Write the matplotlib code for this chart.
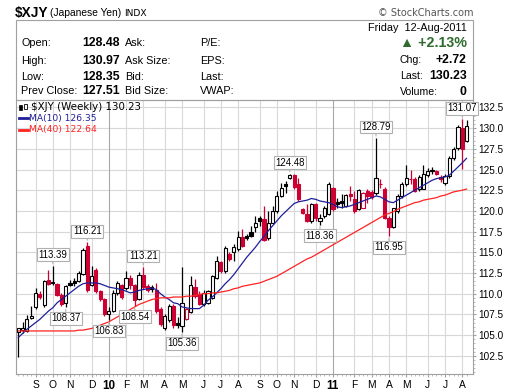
import numpy as np
import pandas as pd
import matplotlib
matplotlib.use('Agg')
import matplotlib.pyplot as plt
from matplotlib.patches import Rectangle

# weekly $XJY candles, Aug 14 2009 .. Aug 12 2011
opens = [105.4, 105.6, 105.5, 107.1, 108.4, 110.0, 108.6, 111.7, 111.4, 111.2,
         109.9, 108.9, 111.3, 111.5, 111.5, 112.4, 115.8, 111.1, 112.9, 110.3,
         109.3, 107.6, 107.9, 110.1, 111.0, 110.7, 111.9, 111.0, 109.4, 112.2,
         110.9, 110.8, 110.4, 108.1, 105.8, 106.8, 108.5, 106.5, 106.1, 107.0,
         107.8, 110.8, 110.0, 108.7, 108.9, 109.5, 111.9, 113.8, 112.7, 114.8,
         115.0, 115.4, 116.8, 117.0, 117.4, 118.1, 119.2, 119.0, 116.7, 118.6,
         120.0, 121.8, 123.2, 124.0, 124.4, 123.3, 120.2, 119.6, 118.8, 120.8,
         118.8, 119.4, 119.6, 122.8, 121.1, 121.2, 120.6, 122.0, 121.5, 120.2,
         120.4, 122.4, 122.3, 122.2, 123.3, 122.7, 119.2, 118.1, 120.0, 121.8,
         123.2, 123.9, 123.9, 122.6, 122.7, 124.3, 125.0, 124.8, 124.1, 123.4,
         124.2, 126.4, 127.6, 130.0, 128.48]
highs = [105.9, 106.6, 107.4, 108.5, 110.7, 110.3, 111.7, 112.9, 113.39, 111.3,
         110.1, 111.1, 111.7, 111.9, 112.8, 115.5, 116.21, 113.3, 113.1, 110.5,
         109.5, 108.4, 110.5, 111.5, 111.2, 112.7, 112.2, 111.2, 112.6, 113.21,
         111.2, 111.0, 111.3, 108.4, 107.5, 108.8, 108.7, 107.2, 113.2, 108.3,
         112.1, 111.8, 110.3, 110.4, 110.5, 112.3, 114.6, 114.0, 115.8, 115.0,
         116.0, 117.6, 117.8, 117.2, 118.2, 119.4, 119.4, 120.6, 120.0, 120.6,
         122.4, 123.4, 123.6, 124.48, 124.45, 124.0, 120.4, 120.8, 121.0, 121.0,
         119.6, 120.6, 123.5, 122.9, 121.6, 122.0, 122.1, 123.0, 122.4, 122.6,
         122.3, 122.6, 122.5, 128.79, 123.9, 122.9, 119.4, 120.4, 122.0, 123.5,
         125.6, 124.9, 124.1, 124.3, 125.6, 125.2, 125.3, 125.0, 124.4, 124.5,
         126.6, 127.7, 130.4, 131.07, 130.97]
lows = [102.4, 105.3, 105.4, 107.0, 108.2, 109.3, 108.4, 111.0, 111.0, 109.7,
        108.5, 108.37, 110.9, 110.9, 111.4, 112.2, 110.2, 110.9, 110.1, 109.1,
        107.3, 106.83, 107.8, 109.9, 109.3, 110.5, 110.6, 108.54, 109.2, 110.6,
        110.2, 110.2, 107.7, 106.1, 105.6, 106.6, 105.9, 105.8, 105.36, 106.8,
        107.7, 109.5, 108.6, 108.5, 108.7, 109.4, 111.8, 112.5, 112.5, 114.0,
        114.0, 115.2, 115.6, 116.5, 116.8, 117.4, 118.2, 116.4, 116.5, 118.5,
        119.8, 121.7, 122.2, 123.9, 122.7, 121.2, 119.6, 118.7, 118.6, 118.8,
        118.36, 119.2, 119.5, 120.0, 120.4, 120.4, 120.5, 121.2, 119.7, 120.1,
        120.3, 121.0, 121.4, 121.9, 122.8, 119.0, 116.95, 117.9, 119.8, 121.6,
        123.0, 123.3, 122.3, 122.4, 122.6, 124.1, 124.5, 124.3, 123.5, 123.1,
        124.0, 126.2, 127.4, 125.1, 128.35]
closes = [105.8, 105.9, 106.9, 107.3, 110.1, 109.6, 111.5, 111.2, 111.25, 109.9,
          108.7, 110.9, 111.1, 111.3, 112.5, 115.3, 110.5, 112.1, 110.3, 109.4,
          107.6, 107.9, 110.1, 111.3, 109.6, 111.9, 111.0, 109.2, 112.3, 110.8,
          110.5, 110.6, 107.9, 106.4, 107.3, 108.5, 106.2, 106.25, 108.9, 108.1,
          111.0, 109.7, 108.7, 110.1, 110.3, 112.1, 113.9, 112.7, 115.5, 114.2,
          115.65, 116.9, 115.8, 116.7, 117.0, 118.5, 118.8, 116.5, 118.6, 120.0,
          121.8, 122.8, 123.0, 124.3, 122.9, 121.4, 119.7, 118.8, 120.8, 119.1,
          119.15, 120.4, 123.2, 120.2, 120.8, 120.9, 121.9, 121.8, 120.0, 122.5,
          122.2, 121.8, 121.7, 124.0, 123.2, 119.2, 118.1, 120.3, 121.8, 123.3,
          124.0, 123.8, 122.4, 124.1, 124.5, 124.8, 124.85, 124.5, 123.8, 124.2,
          126.4, 127.5, 130.1, 127.51, 130.23]

# moving averages as drawn on the chart
ma10 = [104.7, 105.2, 105.7, 106.1, 106.5, 106.9, 107.4, 107.9, 108.3, 108.9,
        109.3, 109.7, 110.1, 110.5, 110.9, 111.2, 111.3, 111.3, 111.3, 111.2,
        111.0, 110.8, 110.7, 110.6, 110.5, 110.3, 110.1, 110.2, 110.4, 110.5,
        110.6, 110.7, 110.5, 110.0, 109.6, 109.3, 108.9, 108.8, 108.4, 108.3,
        108.2, 108.2, 108.2, 108.6, 109.2, 109.6, 110.1, 110.6, 111.2, 111.7,
        112.3, 113.0, 113.7, 114.4, 115.0, 115.6, 116.3, 116.9, 117.6, 118.2,
        118.8, 119.4, 119.9, 120.4, 120.9, 121.1, 121.2, 121.3, 121.5, 121.4,
        121.2, 121.1, 121.0, 120.8, 120.5, 120.4, 120.5, 120.6, 120.8, 121.0,
        121.2, 121.4, 121.6, 121.8, 121.7, 121.4, 121.1, 121.0, 121.3, 121.6,
        121.9, 122.2, 122.5, 122.8, 123.1, 123.4, 123.7, 123.9, 124.0, 124.1,
        124.3, 124.8, 125.3, 125.8, 126.35]
ma40 = [105.5, 105.5, 105.5, 105.5, 105.5, 105.5, 105.5, 105.5, 105.5, 105.5,
        105.5, 105.5, 105.5, 105.5, 105.6, 105.6, 105.7, 105.8, 106.0, 106.2,
        106.4, 106.6, 106.9, 107.2, 107.5, 107.8, 108.1, 108.4, 108.7, 108.9,
        109.1, 109.3, 109.4, 109.5, 109.5, 109.5, 109.6, 109.6, 109.6, 109.7,
        109.7, 109.8, 109.9, 110.0, 110.0, 110.1, 110.1, 110.2, 110.3, 110.4,
        110.6, 110.7, 110.9, 111.0, 111.1, 111.2, 111.3, 111.5, 111.7, 111.9,
        112.1, 112.4, 112.7, 113.0, 113.3, 113.6, 113.9, 114.2, 114.4, 114.7,
        115.0, 115.3, 115.6, 115.9, 116.2, 116.5, 116.8, 117.1, 117.4, 117.7,
        118.0, 118.3, 118.6, 118.9, 119.2, 119.5, 119.7, 119.9, 120.2, 120.4,
        120.6, 120.8, 121.0, 121.1, 121.3, 121.4, 121.5, 121.6, 121.8, 121.9,
        122.1, 122.3, 122.4, 122.5, 122.64]

peak_weeks = ['2009-10-09', '2009-12-04', '2010-03-05', '2010-10-29', '2011-03-18', '2011-08-05']
trough_weeks = ['2009-10-30', '2010-01-08', '2010-02-19', '2010-05-07', '2010-12-17', '2011-04-08']

W, H = 520, 391
RED = '#cc0033'
FONT = 'Liberation Sans'


def fx(px):
    return px / W


def fy(py):
    return 1 - py / H


weeks = pd.date_range('2009-08-14', periods=len(closes), freq='W-FRI')
x = np.arange(len(closes))
o = np.array(opens); h = np.array(highs); l = np.array(lows); c = np.array(closes)
prev = np.r_[o[0], c[:-1]]

fig = plt.figure(figsize=(W / 100, H / 100), dpi=100)
ax = fig.add_axes([fx(16), fy(374), fx(473) - fx(16), fy(100) - fy(374)])
ax.set_xlim(-0.53, 105.5)
ax.set_ylim(100.3, 133.4)

# month ticks: first week whose monday falls in a new month
mondays = weeks - pd.Timedelta(days=4)
tick_pos, tick_lab, is_year = [], [], []
for i in range(1, len(weeks)):
    if mondays[i].month != mondays[i - 1].month:
        tick_pos.append(i)
        if mondays[i].month == 1:
            tick_lab.append(mondays[i].strftime('%y'))
            is_year.append(True)
        else:
            tick_lab.append('JFMAMJJASOND'[mondays[i].month - 1])
            is_year.append(False)

yt = np.arange(102.5, 133, 2.5)
for v in yt:
    ax.axhline(v, color='#d8d8d8', lw=0.8, zorder=0)
for p, yr in zip(tick_pos, is_year):
    ax.axvline(p, color='#a8a8a8' if yr else '#d8d8d8', lw=0.8, zorder=0)

# candles
cols = np.where(c < prev, RED, 'black')
faces = np.where(c >= o, 'white', cols)
ax.vlines(x, l, h, colors=cols, lw=0.9, zorder=3)
ax.bar(x, np.maximum(np.abs(c - o), 0.06), bottom=np.minimum(o, c), width=0.74,
       color=faces, edgecolor=cols, linewidth=0.8, zorder=4)

ax.plot(x, ma10, color='#1f1f99', lw=0.9, zorder=5)
ax.plot(x, ma40, color='#ff2222', lw=0.9, zorder=5)

# price callouts
bbox = dict(boxstyle='square,pad=0.15', fc='white', ec='#b0b0b0', lw=0.8)
arr = dict(arrowstyle='-', color='#b0b0b0', lw=0.8, shrinkA=0, shrinkB=1.5)
for d in peak_weeks:
    i = weeks.get_loc(pd.Timestamp(d))
    ax.annotate(f'{h[i]:.2f}', (i, h[i]), xytext=(0, 8), textcoords='offset points',
                ha='center', va='center', fontsize=6.9, family=FONT, bbox=bbox,
                arrowprops=arr, zorder=7)
for d in trough_weeks:
    i = weeks.get_loc(pd.Timestamp(d))
    ax.annotate(f'{l[i]:.2f}', (i, l[i]), xytext=(0, -8), textcoords='offset points',
                ha='center', va='center', fontsize=6.9, family=FONT, bbox=bbox,
                arrowprops=arr, zorder=7)

# axes styling
for s in ax.spines.values():
    s.set_color('#a0a0a0')
    s.set_linewidth(0.8)
ax.yaxis.tick_right()
ax.set_yticks(yt)
ax.set_yticklabels([f'{v:.1f}' for v in yt], fontsize=7.2, family=FONT)
ax.set_yticks(np.arange(100.5, 133.4, 0.5), minor=True)
ax.set_xticks(tick_pos)
ax.set_xticklabels(tick_lab, fontsize=7.4, family=FONT)
for t, yr in zip(ax.get_xticklabels(), is_year):
    if yr:
        t.set_fontweight('bold')
        t.set_fontsize(8.4)
ax.set_xticks(x, minor=True)
ax.tick_params(axis='both', which='major', length=2, color='#a0a0a0', pad=2)
ax.tick_params(axis='both', which='minor', length=1.5, width=0.5, color='#a0a0a0')

# legend in panel
fig.add_artist(Rectangle((fx(19), fy(110)), 2.5 / W, 5 / H, transform=fig.transFigure,
                         fc='black', ec='black', lw=0.5))
fig.add_artist(Rectangle((fx(24), fy(109)), 2.5 / W, 5 / H, transform=fig.transFigure,
                         fc='white', ec='black', lw=0.6))
fig.text(fx(31), fy(107.5), f'$XJY (Weekly) {c[-1]:.2f}', fontsize=7.4, va='center')
fig.add_artist(plt.Line2D([fx(19), fx(28)], [fy(118.3), fy(118.3)], color='#1f1f99', lw=2))
fig.text(fx(29), fy(118.3), f'MA(10) {ma10[-1]:.2f}', fontsize=6.6, va='center', color='#1f1f99')
fig.add_artist(plt.Line2D([fx(19), fx(28)], [fy(129.5), fy(129.5)], color='#ff2222', lw=2))
fig.text(fx(29), fy(129.5), f'MA(40) {ma40[-1]:.2f}', fontsize=6.6, va='center', color='#ff2222')

# header
fig.text(fx(15), fy(13), '$XJY', fontsize=9.8, fontweight='bold', family=FONT, va='center')
fig.text(fx(50), fy(13.5), '(Japanese Yen)', fontsize=7.4, family=FONT, va='center')
fig.text(fx(124), fy(13.5), 'INDX', fontsize=6.6, va='center')
fig.text(fx(473), fy(12.7), '\u00a9 StockCharts.com', fontsize=7, color='#555555',
         ha='right', va='center')
fig.add_artist(Rectangle((fx(16), fy(100)), fx(473) - fx(16), fy(19.5) - fy(100),
                         transform=fig.transFigure, fc='none', ec='#a0a0a0', lw=0.8))

rows_y = [43.5, 60.5, 76.5, 91.5]
left_lab = ['Open:', 'High:', 'Low:', 'Prev Close:']
left_val = [opens[-1], highs[-1], lows[-1], closes[-2]]
mid_lab = ['Ask:', 'Ask Size:', 'Bid:', 'Bid Size:']
far_lab = ['P/E:', 'EPS:', 'Last:', 'VWAP:']
for yy, a, v, b, e in zip(rows_y, left_lab, left_val, mid_lab, far_lab):
    fig.text(fx(21), fy(yy), a, fontsize=7.8, family=FONT, va='center')
    fig.text(fx(82), fy(yy), f'{v:.2f}', fontsize=8.8, fontweight='bold', family=FONT, va='center')
    fig.text(fx(125), fy(yy), b, fontsize=7.8, family=FONT, va='center')
    fig.text(fx(200), fy(yy), e, fontsize=7.8, family=FONT, va='center')

chg = closes[-1] - closes[-2]
fig.text(fx(466.5), fy(28.3), 'Friday  ' + weeks[-1].strftime('%d-%b-%Y'), fontsize=7.8,
         family=FONT, ha='right', va='center')
fig.text(fx(466.5), fy(43.3), f'\u25b2 {chg / closes[-2] * 100:+.2f}%', fontsize=10.3,
         fontweight='bold', color='#2e6b2e', family=[FONT, 'DejaVu Sans'], ha='right', va='center')
right_lab = ['Chg:', 'Last:', 'Volume:']
right_val = [f'{chg:+.2f}', f'{closes[-1]:.2f}', '0']
for yy, a, v in zip([60, 76.3, 91.7], right_lab, right_val):
    fig.text(fx(400), fy(yy), a, fontsize=7.6, family=FONT, va='center')
    fig.text(fx(466.5), fy(yy), v, fontsize=8.8, fontweight='bold', family=FONT,
             ha='right', va='center')

fig.savefig('out.png', dpi=100)
